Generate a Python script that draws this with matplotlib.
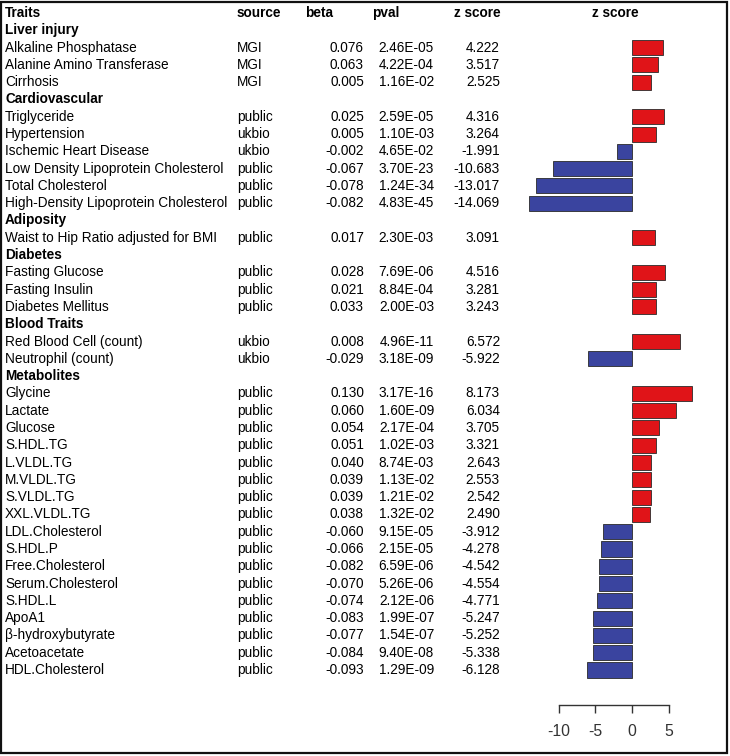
import matplotlib
matplotlib.use("Agg")
import matplotlib.pyplot as plt
import matplotlib.transforms as mtransforms
from matplotlib.patches import Rectangle

plt.rcParams['font.family'] = ['Liberation Sans', 'DejaVu Sans']

# ---- data ----
groups = ["Liver injury", "Cardiovascular", "Adiposity", "Diabetes",
          "Blood Traits", "Metabolites"]
group_sizes = [3, 6, 1, 3, 2, 17]
traits = ["Alkaline Phosphatase", "Alanine Amino Transferase", "Cirrhosis",
          "Triglyceride", "Hypertension", "Ischemic Heart Disease",
          "Low Density Lipoprotein Cholesterol", "Total Cholesterol",
          "High-Density Lipoprotein Cholesterol",
          "Waist to Hip Ratio adjusted for BMI",
          "Fasting Glucose", "Fasting Insulin", "Diabetes Mellitus",
          "Red Blood Cell (count)", "Neutrophil (count)",
          "Glycine", "Lactate", "Glucose", "S.HDL.TG", "L.VLDL.TG",
          "M.VLDL.TG", "S.VLDL.TG", "XXL.VLDL.TG", "LDL.Cholesterol",
          "S.HDL.P", "Free.Cholesterol", "Serum.Cholesterol", "S.HDL.L",
          "ApoA1", "\u03b2-hydroxybutyrate", "Acetoacetate", "HDL.Cholesterol"]
sources = ["MGI", "MGI", "MGI",
           "public", "ukbio", "ukbio", "public", "public", "public",
           "public",
           "public", "public", "public",
           "ukbio", "ukbio",
           "public", "public", "public", "public", "public", "public",
           "public", "public", "public", "public", "public", "public",
           "public", "public", "public", "public", "public"]
beta = [0.076, 0.063, 0.005,
        0.025, 0.005, -0.002, -0.067, -0.078, -0.082,
        0.017,
        0.028, 0.021, 0.033,
        0.008, -0.029,
        0.130, 0.060, 0.054, 0.051, 0.040, 0.039, 0.039, 0.038,
        -0.060, -0.066, -0.082, -0.070, -0.074, -0.083, -0.077, -0.084, -0.093]
pval = [2.46e-05, 4.22e-04, 1.16e-02,
        2.59e-05, 1.10e-03, 4.65e-02, 3.70e-23, 1.24e-34, 4.83e-45,
        2.30e-03,
        7.69e-06, 8.84e-04, 2.00e-03,
        4.96e-11, 3.18e-09,
        3.17e-16, 1.60e-09, 2.17e-04, 1.02e-03, 8.74e-03, 1.13e-02,
        1.21e-02, 1.32e-02, 9.15e-05, 2.15e-05, 6.59e-06, 5.26e-06,
        2.12e-06, 1.99e-07, 1.54e-07, 9.40e-08, 1.29e-09]
zscore = [4.222, 3.517, 2.525,
          4.316, 3.264, -1.991, -10.683, -13.017, -14.069,
          3.091,
          4.516, 3.281, 3.243,
          6.572, -5.922,
          8.173, 6.034, 3.705, 3.321, 2.643, 2.553, 2.542, 2.490,
          -3.912, -4.278, -4.542, -4.554, -4.771, -5.247, -5.252, -5.338, -6.128]
xticks = [-10, -5, 0, 5]

# ---- layout ----
W, H = 730, 756
fig = plt.figure(figsize=(W / 100, H / 100), dpi=100)
row0_px, row_step = 13.0, 17.29
ax_left_px, ax_right_px = 520.0, 700.0
zero_px, unit_px = 632.0, 7.35

ax = fig.add_axes([ax_left_px / W, 0, (ax_right_px - ax_left_px) / W, 1])
ax.set_xlim((ax_left_px - zero_px) / unit_px, (ax_right_px - zero_px) / unit_px)
ax.set_ylim((H - row0_px) / row_step, -row0_px / row_step)
ax.patch.set_visible(False)

fs = 9.8
tr = mtransforms.blended_transform_factory(fig.transFigure, ax.transData)

def fx(px):
    return px / W

# header
ax.text(fx(5), 0, "Traits", transform=tr, fontsize=fs, fontweight='bold', va='center')
ax.text(fx(237), 0, "source", transform=tr, fontsize=fs, fontweight='bold', va='center')
ax.text(fx(305), 0, "beta", transform=tr, fontsize=fs, fontweight='bold', va='center')
ax.text(fx(372), 0, "pval", transform=tr, fontsize=fs, fontweight='bold', va='center')
ax.text(fx(501), 0, "z score", transform=tr, fontsize=fs, fontweight='bold', va='center', ha='right')
ax.text(fx(615), 0, "z score", transform=tr, fontsize=fs, fontweight='bold', va='center', ha='center')

row = 1
idx = 0
bar_rows, bar_vals, bar_cols = [], [], []
for g, n in zip(groups, group_sizes):
    ax.text(fx(5), row, g, transform=tr, fontsize=fs, fontweight='bold', va='center')
    row += 1
    for _ in range(n):
        ax.text(fx(5), row, traits[idx], transform=tr, fontsize=fs, va='center')
        ax.text(fx(237), row, sources[idx], transform=tr, fontsize=fs, va='center')
        ax.text(fx(364), row, "%.3f" % beta[idx], transform=tr, fontsize=fs, va='center', ha='right')
        ax.text(fx(434), row, "%.2E" % pval[idx], transform=tr, fontsize=fs, va='center', ha='right')
        ax.text(fx(500), row, "%.3f" % zscore[idx], transform=tr, fontsize=fs, va='center', ha='right')
        bar_rows.append(row)
        bar_vals.append(zscore[idx])
        bar_cols.append('#e01418' if zscore[idx] > 0 else '#3a449f')
        row += 1
        idx += 1

ax.barh(bar_rows, bar_vals, height=0.87, color=bar_cols, edgecolor='#2a2a2a', linewidth=0.6)

# axis
for s in ['top', 'right', 'left']:
    ax.spines[s].set_visible(False)
axis_row = (705 - row0_px) / row_step
ax.spines['bottom'].set_position(('data', axis_row))
ax.spines['bottom'].set_bounds(min(xticks), max(xticks))
ax.spines['bottom'].set_linewidth(1.0)
ax.spines['bottom'].set_color('#333333')
ax.set_xticks(xticks)
ax.set_xticklabels([str(t) for t in xticks])
ax.tick_params(axis='x', direction='out', length=6, width=1.0, color='#333333',
               labelsize=11.3, pad=8, labelcolor='#333333')
ax.set_yticks([])

# frame
fig.patches.append(Rectangle((1.5 / W, 3.5 / H), 725.5 / W, 750.5 / H, transform=fig.transFigure,
                             fill=False, edgecolor='#111111', linewidth=1.6))

fig.savefig("out.png", dpi=100)
